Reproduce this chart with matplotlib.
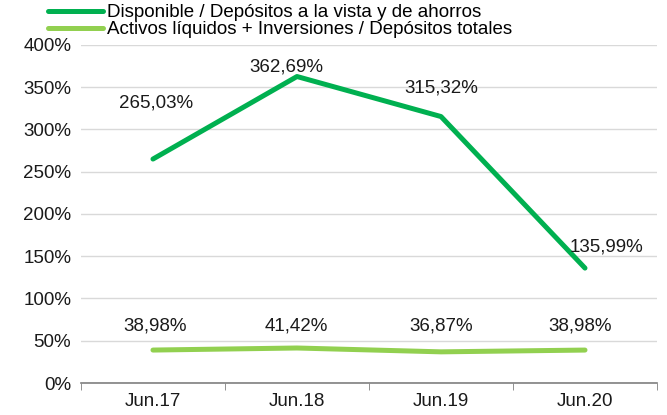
import matplotlib
matplotlib.use("Agg")
import matplotlib.pyplot as plt

plt.rcParams['font.family'] = ['Liberation Sans', 'DejaVu Sans']

categories = ["Jun.17", "Jun.18", "Jun.19", "Jun.20"]
disponible = [265.03, 362.69, 315.32, 135.99]
activos = [38.98, 41.42, 36.87, 38.98]
disponible_labels = ["265,03%", "362,69%", "315,32%", "135,99%"]
activos_labels = ["38,98%", "41,42%", "36,87%", "38,98%"]
yticks = [0, 50, 100, 150, 200, 250, 300, 350, 400]

name_disp = "Disponible / Depósitos a la vista y de ahorros"
name_act = "Activos líquidos + Inversiones / Depósitos totales"

# label offsets in pixels (style only)
disp_off = [(3, 56), (-11, 10), (0, 29), (22, 21)]
act_off = [(2, 24), (-1, 22), (0, 26), (-5, 24)]

dark = "#00B050"
light = "#92D050"
fs = 13.5

fig = plt.figure(figsize=(6.67, 4.15), dpi=100)
ax = fig.add_axes([0.1214, 0.0771, 0.8636, 0.8145])

x = list(range(len(categories)))
l1, = ax.plot(x, disponible, color=dark, lw=3.6, solid_capstyle='round', label=name_disp, zorder=3)
l2, = ax.plot(x, activos, color=light, lw=3.6, solid_capstyle='round', label=name_act, zorder=3)

for i in x:
    ax.annotate(disponible_labels[i], (i, disponible[i]), xytext=disp_off[i],
                textcoords='offset pixels', ha='center', va='center', fontsize=fs, color='#1a1a1a')
    ax.annotate(activos_labels[i], (i, activos[i]), xytext=act_off[i],
                textcoords='offset pixels', ha='center', va='center', fontsize=fs, color='#1a1a1a')

ax.set_xlim(-0.5, 3.5)
ax.set_ylim(0, 400)
ax.set_yticks(yticks)
ax.set_yticklabels([f"{v}%" for v in yticks], fontsize=fs, color='#1a1a1a')
ax.set_xticks(x)
ax.set_xticklabels(categories, fontsize=fs, color='#1a1a1a')
ax.set_xticks([-0.5, 0.5, 1.5, 2.5, 3.5], minor=True)
ax.tick_params(axis='x', which='major', length=0, pad=7)
ax.tick_params(axis='x', which='minor', length=5, color='#808080', direction='out')
ax.tick_params(axis='y', length=0, pad=7)

ax.grid(axis='y', color='#D9D9D9', lw=1)
ax.set_axisbelow(True)
for s in ['left', 'right', 'top']:
    ax.spines[s].set_visible(False)
ax.spines['bottom'].set_color('#808080')
ax.spines['bottom'].set_linewidth(1.2)
ax.spines['bottom'].set_zorder(4)

fig.legend(handles=[l1, l2], loc='upper left', bbox_to_anchor=(0.072, 0.99),
           frameon=False, fontsize=fs, handlelength=2.95, handletextpad=0.2,
           borderpad=0, labelspacing=0.0, borderaxespad=0)

fig.savefig("out.png", dpi=100)
